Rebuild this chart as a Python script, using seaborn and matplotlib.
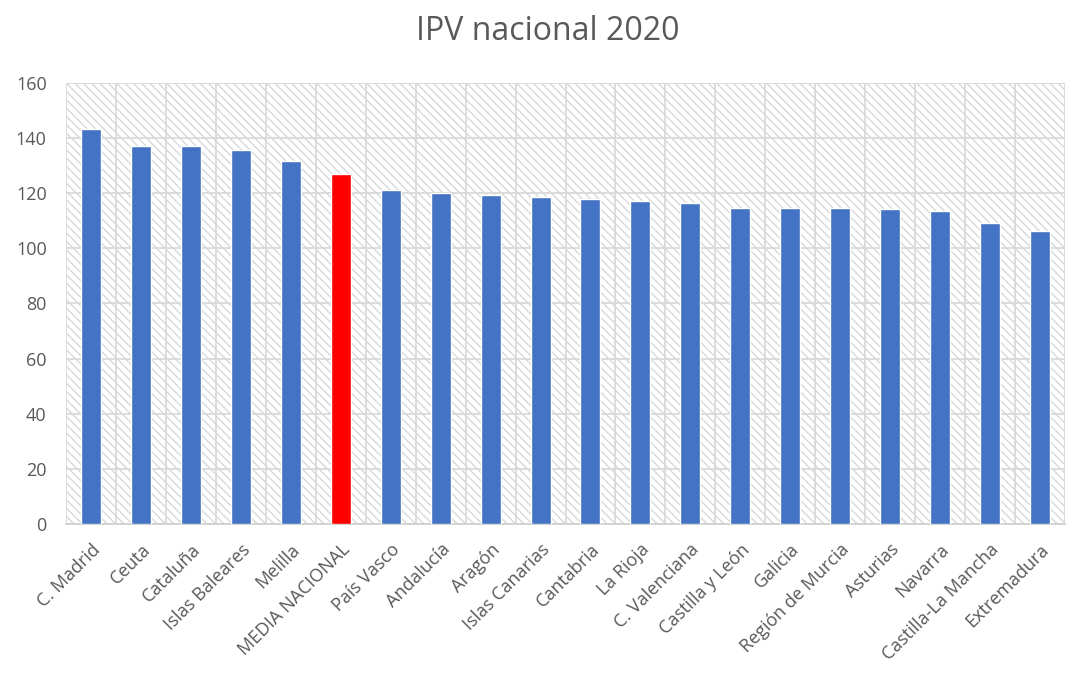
import numpy as np
import pandas as pd
import matplotlib
matplotlib.use("Agg")
import matplotlib.pyplot as plt
from matplotlib.patches import Rectangle
import seaborn as sns

# data
regiones = ["C. Madrid", "Ceuta", "Cataluña", "Islas Baleares", "Melilla",
            "MEDIA NACIONAL", "País Vasco", "Andalucía", "Aragón", "Islas Canarias",
            "Cantabria", "La Rioja", "C. Valenciana", "Castilla y León", "Galicia",
            "Región de Murcia", "Asturias", "Navarra", "Castilla-La Mancha", "Extremadura"]
ipv = [143.3, 137.2, 137.2, 135.6, 131.8,
       127.0, 121.2, 120.0, 119.4, 118.8,
       117.8, 117.3, 116.6, 114.5, 114.5,
       114.5, 114.2, 113.4, 109.1, 106.4]
y_ticks = [0, 20, 40, 60, 80, 100, 120, 140, 160]

df = pd.DataFrame({"Region": regiones, "IPV": ipv})
palette = {r: ("#FF0000" if r == "MEDIA NACIONAL" else "#4472C4") for r in regiones}

sns.set_theme(style="white")
plt.rcParams['font.family'] = ['Open Sans', 'DejaVu Sans']
plt.rcParams['hatch.linewidth'] = 0.9

fig = plt.figure(figsize=(10.67, 6.75), dpi=100)
ax = fig.add_axes([0.062, 0.224, 0.936, 0.653])

# hatched background
ax.add_patch(Rectangle((0, 0), 1, 1, transform=ax.transAxes, facecolor="white",
                       edgecolor="#d4d4d4", hatch="\\\\\\\\", lw=0, zorder=0))

sns.barplot(data=df, x="Region", y="IPV", hue="Region", palette=palette,
            width=0.4, legend=False, ax=ax, zorder=3, saturation=1)

ax.set_ylim(0, 160)
ax.set_xlim(-0.5, len(regiones) - 0.5)
ax.set_yticks(y_ticks)
ax.set_xticks(np.arange(len(regiones)))
ax.set_xticklabels(regiones, rotation=45, ha="right", rotation_mode="anchor")
ax.set_xticks(np.arange(len(regiones) + 1) - 0.5, minor=True)

ax.grid(True, axis="y", which="major", color="#d9d9d9", lw=1.3, zorder=1)
ax.grid(True, axis="x", which="minor", color="#d9d9d9", lw=1.3, zorder=1)
ax.grid(False, axis="x", which="major")
ax.set_axisbelow(True)

for side in ["top", "right", "left"]:
    ax.spines[side].set_visible(False)
ax.spines["bottom"].set_color("#d0d0d0")
ax.spines["bottom"].set_linewidth(1.3)

ax.tick_params(axis="both", which="both", length=0, labelsize=13, colors="#595959")
ax.tick_params(axis="y", pad=14)
ax.tick_params(axis="x", pad=12)
ax.set_xlabel("")
ax.set_ylabel("")

fig.suptitle("IPV nacional 2020", x=0.513, y=0.978, fontsize=23, color="#595959")

fig.savefig("out.png", dpi=100)
